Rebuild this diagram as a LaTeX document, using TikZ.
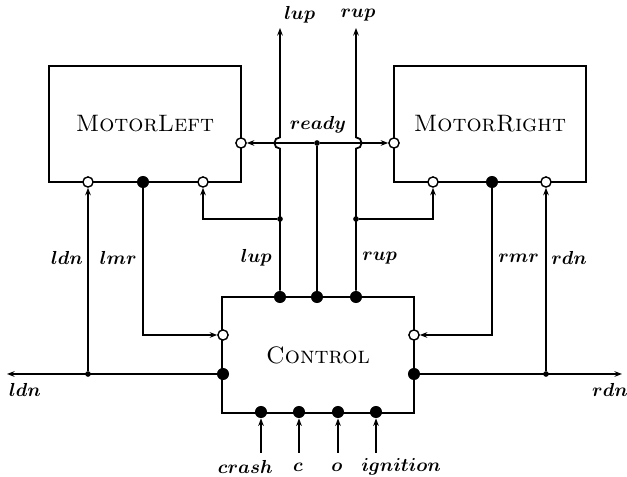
\documentclass[tikz,border=0pt]{standalone}
\usepackage{amsmath}
\usepackage{bm}
\usepackage{tikz}
\usetikzlibrary{arrows.meta}

\tikzset{
  box/.style={draw,line width=0.7pt,minimum width=101.8pt,minimum height=61.5pt,inner sep=0pt,font=\fontsize{12.6}{15}\selectfont},
  wire/.style={line width=0.95pt},
  inport/.style={circle,draw,fill=white,line width=0.75pt,minimum size=5.4pt,inner sep=0pt},
  outport/.style={circle,fill=black,minimum size=6.4pt,inner sep=0pt},
  joint/.style={circle,fill=black,minimum size=3pt,inner sep=0pt},
  sig/.style={inner sep=1pt},
  >={Stealth[length=4pt,width=3pt]}
}

\begin{document}
\begin{tikzpicture}[x=0.53pt,y=-0.53pt]
\useasboundingbox (0,0) rectangle (627,477);
\node[box] (ml) at (145,124) {\textsc{MotorLeft}};
\node[box] (mr) at (490,124) {\textsc{MotorRight}};
\node[box] (ctl) at (318,355) {\textsc{Control}};
\node[inport] (mlready) at (241,143) {};
\node[inport] (mldn) at (88,182) {};
\node[outport] (mlmr) at (143,182) {};
\node[inport] (mlup) at (203,182) {};
\node[inport] (mrready) at (394,143) {};
\node[inport] (mrup) at (433,182) {};
\node[outport] (mrmr) at (492,182) {};
\node[inport] (mrdn) at (546,182) {};
\node[outport] (clup) at (280,297) {};
\node[outport] (cready) at (317,297) {};
\node[outport] (crup) at (356,297) {};
\node[inport] (clmr) at (223,335) {};
\node[outport] (cldn) at (223,374) {};
\node[inport] (crmr) at (414,335) {};
\node[outport] (crdn) at (414,374) {};
\node[joint] (jready) at (317,143) {};
\node[joint] (jlup) at (280,219) {};
\node[joint] (jrup) at (356,219) {};
\node[joint] (jldn) at (88,374) {};
\node[joint] (jrdn) at (546,374) {};
\coordinate (bumpl) at (280,143);
\coordinate (bumpr) at (356,143);
\coordinate (lupend) at (280,28);
\coordinate (rupend) at (356,28);
\coordinate (ldnend) at (7,374);
\coordinate (rdnend) at (622,374);
\draw[wire,->] (clup) -- ([yshift=-3pt]bumpl) arc[start angle=270,end angle=90,radius=3pt] -- (lupend);
\draw[wire,->] (crup) -- ([yshift=-3pt]bumpr) arc[start angle=-90,end angle=90,radius=3pt] -- (rupend);
\draw[wire,->] (jlup) -| (mlup);
\draw[wire,->] (jrup) -| (mrup);
\draw[wire] (cready) -- (jready);
\draw[wire,->] (jready) -- (mlready);
\draw[wire,->] (jready) -- (mrready);
\draw[wire,->] (mlmr) |- (clmr);
\draw[wire,->] (mrmr) |- (crmr);
\draw[wire,->] (cldn) -- (ldnend);
\draw[wire,->] (jldn) -- (mldn);
\draw[wire,->] (crdn) -- (rdnend);
\draw[wire,->] (jrdn) -- (mrdn);
\foreach \n/\x in {crash/261,c/299,o/338,ign/376} {
  \node[outport] (\n) at (\x,412) {};
  \coordinate (\n0) at (\x,453);
  \draw[wire,->] (\n0) -- (\n);
}
\node[sig,anchor=west] (lupt) at (282,15) {$\bm{lup}$};
\node[sig] (rupt) at (358,15) {$\bm{rup}$};
\node[sig] (readyt) at (318,125) {$\bm{ready}$};
\node[sig,anchor=east] (ldnt) at (85,258) {$\bm{ldn}$};
\node[sig,anchor=east] (lmrt) at (139,258) {$\bm{lmr}$};
\node[sig,anchor=east] (lupm) at (274,258) {$\bm{lup}$};
\node[sig,anchor=west] (rupm) at (360,258) {$\bm{rup}$};
\node[sig,anchor=west] (rmrt) at (496,258) {$\bm{rmr}$};
\node[sig,anchor=west] (rdnt) at (549,258) {$\bm{rdn}$};
\node[sig] (ldnb) at (25,390) {$\bm{ldn}$};
\node[sig] (rdnb) at (610,390) {$\bm{rdn}$};
\node[sig,anchor=east] (crasht) at (275,467) {$\bm{crash}$};
\node[sig] (ct) at (298,467) {$\bm{c}$};
\node[sig] (ot) at (337,467) {$\bm{o}$};
\node[sig,anchor=west] (ignt) at (359,467) {$\bm{ignition}$};
\end{tikzpicture}
\end{document}
